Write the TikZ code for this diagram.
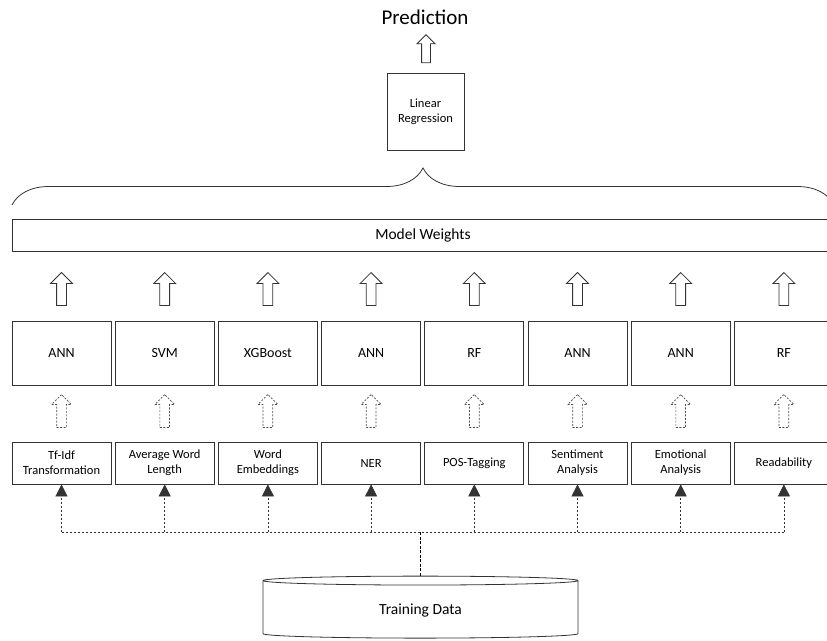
\documentclass[tikz,border=0pt]{standalone}
\usepackage{fontspec}
\setmainfont{Carlito}
\usetikzlibrary{shapes.arrows,shapes.geometric,arrows.meta,decorations.pathreplacing}

\begin{document}
\begin{tikzpicture}[x=1pt,y=-1pt]

        \useasboundingbox (0,0) rectangle (827,640);
        \clip (0,0) rectangle (827,640);

        % output
        \node (pred) at (425,17) {\fontsize{21}{25}\selectfont Prediction};
        \node[single arrow, draw=black!80, line width=.8pt, rotate=90, inner sep=4pt,
              minimum height=28pt, minimum width=17pt, single arrow head extend=4.5pt] (up0) at (426,51) {};
        \node[draw=black!80, line width=.8pt, minimum size=77pt, align=center,
              font=\fontsize{12.5}{15}\selectfont] (lr) at (425.5,111.5) {Linear\\Regression};

        \draw[black!80, line width=.8pt, decorate, decoration={brace, amplitude=37pt}] (12,205) -- (834,205);

        \node[draw=black!80, line width=.8pt, minimum width=822pt, minimum height=32pt,
              font=\fontsize{15.5}{18}\selectfont] (mw) at (423,235) {Model Weights};

        % models
        \begin{scope}[every node/.style={draw=black!80, line width=.8pt, minimum width=99pt,
                      minimum height=64pt, font=\fontsize{14}{17}\selectfont}]
          \node (m1) at (61.5,353)  {ANN};
          \node (m2) at (164.7,353) {SVM};
          \node (m3) at (267.9,353) {XGBoost};
          \node (m4) at (371.1,353) {ANN};
          \node (m5) at (474.3,353) {RF};
          \node (m6) at (577.5,353) {ANN};
          \node (m7) at (680.7,353) {ANN};
          \node (m8) at (783.9,353) {RF};
        \end{scope}

        % hollow arrows
        \begin{scope}[every node/.style={single arrow, draw=black!80, line width=.8pt, rotate=90,
                      inner sep=4.5pt, minimum height=33pt, minimum width=21pt, single arrow head extend=6pt}]
          \node (u1) at (61.5,291.5)  {};
          \node (u2) at (164.7,291.5) {};
          \node (u3) at (267.9,291.5) {};
          \node (u4) at (371.1,291.5) {};
          \node (u5) at (474.3,291.5) {};
          \node (u6) at (577.5,291.5) {};
          \node (u7) at (680.7,291.5) {};
          \node (u8) at (783.9,291.5) {};
        \end{scope}

        \begin{scope}[every node/.style={single arrow, draw=black!70, line width=.7pt, rotate=90,
                      dash pattern=on 2pt off 1.5pt, inner sep=4.5pt, minimum height=33pt,
                      minimum width=19pt, single arrow head extend=5pt}]
          \node (d1) at (61.5,413.5)  {};
          \node (d2) at (164.7,413.5) {};
          \node (d3) at (267.9,413.5) {};
          \node (d4) at (371.1,413.5) {};
          \node (d5) at (474.3,413.5) {};
          \node (d6) at (577.5,413.5) {};
          \node (d7) at (680.7,413.5) {};
          \node (d8) at (783.9,413.5) {};
        \end{scope}

        % features
        \begin{scope}[every node/.style={draw=black!80, line width=.8pt, minimum width=99pt,
                      minimum height=42pt, align=center, font=\fontsize{12.5}{15}\selectfont}]
          \node (f1) at (61.5,463)  {Tf-Idf\\Transformation};
          \node (f2) at (164.7,463) {Average Word\\Length};
          \node (f3) at (267.9,463) {Word\\Embeddings};
          \node (f4) at (371.1,463) {NER};
          \node (f5) at (474.3,463) {POS-Tagging};
          \node (f6) at (577.5,463) {Sentiment\\Analysis};
          \node (f7) at (680.7,463) {Emotional\\Analysis};
          \node (f8) at (783.9,463) {Readability};
        \end{scope}

        % data
        \node[cylinder, draw=black!80, line width=.8pt, shape border rotate=90, aspect=0.1,
              minimum width=315pt, minimum height=62pt, font=\fontsize{15.5}{18}\selectfont]
              (data) at (420.5,610) {Training Data};

        \coordinate (b1) at (61.5,532);
        \coordinate (b2) at (164.7,532);
        \coordinate (b3) at (267.9,532);
        \coordinate (b4) at (371.1,532);
        \coordinate (b5) at (474.3,532);
        \coordinate (b6) at (577.5,532);
        \coordinate (b7) at (680.7,532);
        \coordinate (b8) at (783.9,532);
        \coordinate (t)  at (420.5,532);

        \begin{scope}[every edge/.style={draw=black!80, line width=.7pt, dash pattern=on 2.5pt off 1.5pt,
                      -{Triangle[width=12pt,length=12pt]}}]
          \path (b1) edge (f1);
          \path (b2) edge (f2);
          \path (b3) edge (f3);
          \path (b4) edge (f4);
          \path (b5) edge (f5);
          \path (b6) edge (f6);
          \path (b7) edge (f7);
          \path (b8) edge (f8);
        \end{scope}
        \draw[black!80, line width=.7pt, dash pattern=on 2.5pt off 1.5pt] (b1) -- (b8);
        \draw[black, line width=1pt, dash pattern=on 3pt off 1.5pt] (t) -- (data.north);

      \end{tikzpicture}
\end{document}
